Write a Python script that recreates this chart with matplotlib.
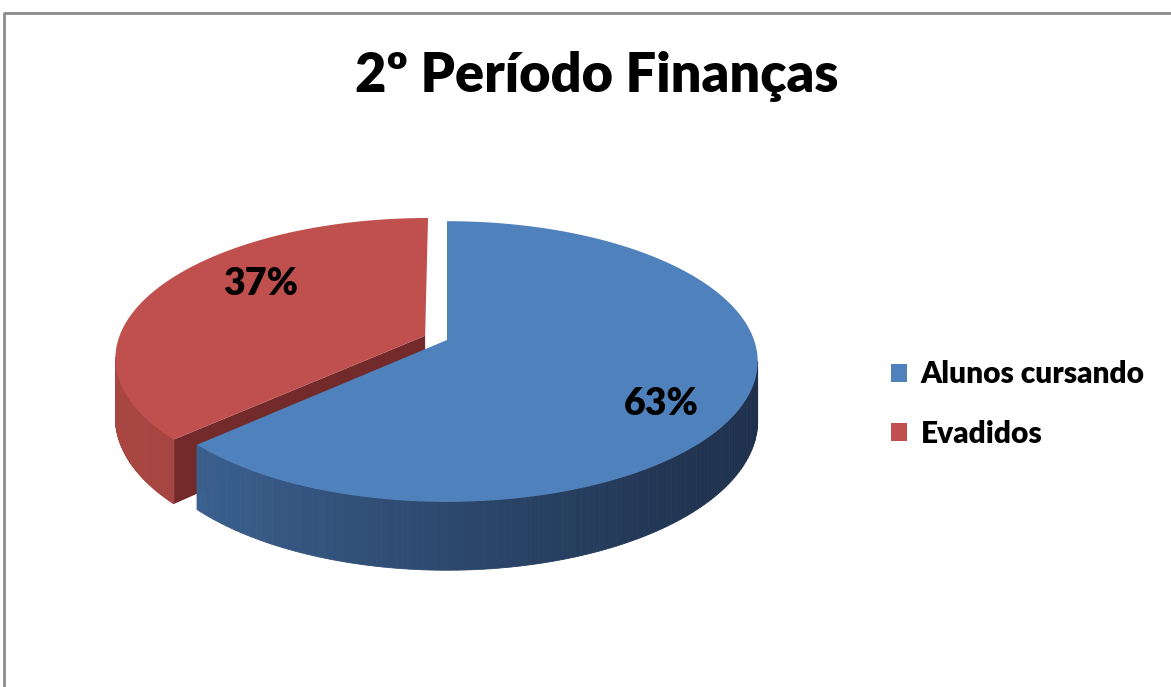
import numpy as np
import matplotlib
matplotlib.use('Agg')
import matplotlib.pyplot as plt
from matplotlib.patches import Polygon, Patch

# data
labels = ['Alunos cursando', 'Evadidos']
values = [63, 37]
title = '2º Período Finanças'

# styles
top_colors = ['#4F81BD', '#C0504D']
side_light = [(64, 105, 155), (168, 70, 66)]
side_dark = [(30, 48, 75), (150, 58, 55)]
cut_colors = ['#2B4468', '#722B2A']
explode = [0.0, 0.078]
label_pos = [(661, 404), (261, 284)]
FONT = ['Lato', 'DejaVu Sans']
WEIGHT = 'heavy'

W, H = 1171, 687
fig = plt.figure(figsize=(W / 100, H / 100), dpi=100)
ax = fig.add_axes([0, 0, 1, 1])
ax.set_xlim(0, W)
ax.set_ylim(H, 0)
ax.axis('off')

# chart frame (gray, only top and left visible)
ax.plot([4, 4, W], [H, 13, 13], color='#8C8C8C', lw=2, solid_capstyle='butt')

# simple perspective for the pie, in pixel units
CX, CY = 447, 340
A, B, E = 307, 137, 0.153
T = 58


def proj(u, v, down=0.0):
    w = 1 + E * v
    return CX + A * u / w, CY - B * v / w + down * T / w


def rgb(c):
    return tuple(x / 255 for x in c)


# slice angles, starting at 12 o'clock going clockwise
total = float(sum(values))
bounds = [90.0]
for v in values:
    bounds.append(bounds[-1] - v / total * 360.0)

sil_lo = 180 + np.degrees(np.arcsin(E))
sil_hi = 360 - np.degrees(np.arcsin(E))

# draw back slice first
order = sorted(range(len(values)),
               key=lambda i: -np.sin(np.radians((bounds[i] + bounds[i + 1]) / 2)))

for i in order:
    a_hi, a_lo = bounds[i], bounds[i + 1]
    mid = np.radians((a_hi + a_lo) / 2)
    du, dv = explode[i] * np.cos(mid), explode[i] * np.sin(mid)

    # radial cut faces
    for ang, sgn in [(a_lo, -1), (a_hi, 1)]:
        nrm = np.radians(ang + sgn * 90)
        if np.sin(nrm) < -0.05:
            r = np.radians(ang)
            pts = [proj(du, dv), proj(du + np.cos(r), dv + np.sin(r)),
                   proj(du + np.cos(r), dv + np.sin(r), 1), proj(du, dv, 1)]
            ax.add_patch(Polygon(pts, closed=True, fc=cut_colors[i], ec='none'))

    # outer curved side, front facing part only
    lo = a_lo % 360
    hi = lo + (a_hi - a_lo)
    s0, s1 = max(lo, sil_lo), min(hi, sil_hi)
    if s1 > s0:
        th = np.radians(np.linspace(s0, s1, 120))
        xs_all = [proj(du + np.cos(t), dv + np.sin(t))[0] for t in th]
        xmin, xmax = CX - A * 1.01, CX + A * 1.01
        for k in range(len(th) - 1):
            t0, t1 = th[k], th[k + 1]
            pts = [proj(du + np.cos(t0), dv + np.sin(t0)),
                   proj(du + np.cos(t1), dv + np.sin(t1)),
                   proj(du + np.cos(t1), dv + np.sin(t1), 1),
                   proj(du + np.cos(t0), dv + np.sin(t0), 1)]
            f = np.clip((xs_all[k] - xmin) / (xmax - xmin), 0, 1) ** 0.8
            c = [side_light[i][j] + (side_dark[i][j] - side_light[i][j]) * f for j in range(3)]
            ax.add_patch(Polygon(pts, closed=True, fc=rgb(c), ec=rgb(c), lw=0.6))

    # top face
    th = np.radians(np.linspace(a_lo, a_hi, 200))
    pts = [proj(du, dv)] + [proj(du + np.cos(t), dv + np.sin(t)) for t in th]
    ax.add_patch(Polygon(pts, closed=True, fc=top_colors[i], ec='none'))

# percentage labels
for i, v in enumerate(values):
    ax.text(label_pos[i][0], label_pos[i][1], '%d%%' % v, ha='center', va='center',
            fontsize=27, fontweight=WEIGHT, family=FONT, color='black')

# title
ax.text(597, 92, title, ha='center', va='baseline', fontsize=39,
        fontweight=WEIGHT, family=FONT, color='black')

# legend
handles = [Patch(facecolor=top_colors[i], edgecolor='none', label=labels[i])
           for i in range(len(labels))]
leg = fig.legend(handles=handles, loc='center left', bbox_to_anchor=(864 / W, 1 - 404 / H),
                 frameon=False, prop={'family': FONT, 'weight': WEIGHT, 'size': 21.5},
                 handlelength=0.55, handleheight=0.55, handletextpad=0.45, labelspacing=1.05)

plt.savefig('out.png', dpi=100)
plt.close()
